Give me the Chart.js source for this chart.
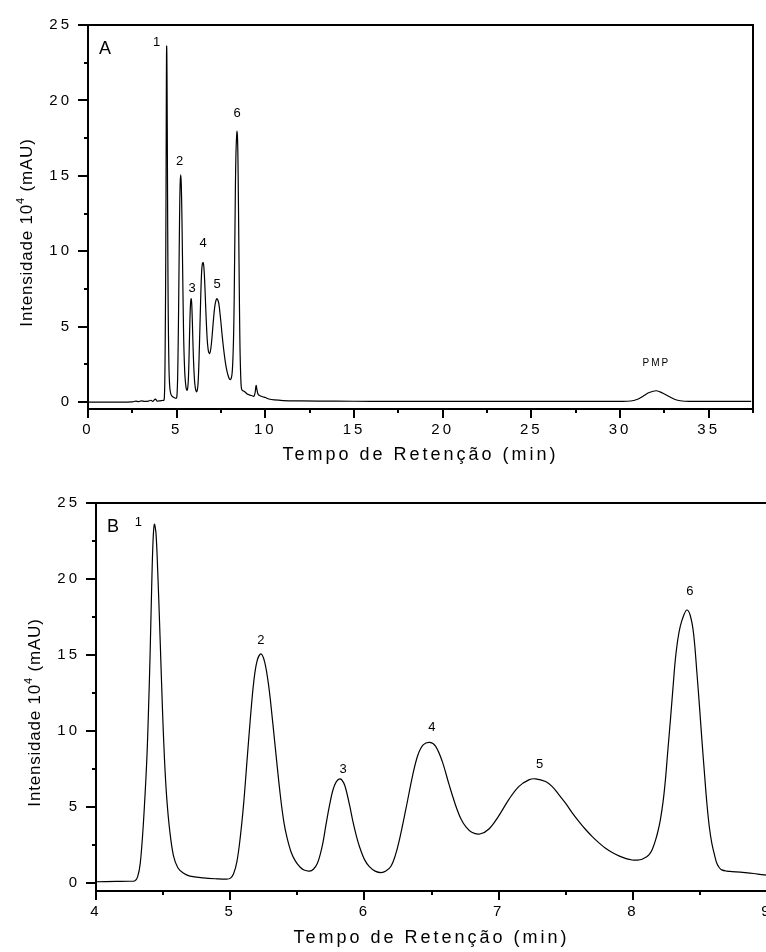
<!DOCTYPE html>
<html>
<head>
<meta charset="utf-8">
<script src="https://cdn.jsdelivr.net/npm/chart.js"></script>
<style>
  html, body { margin: 0; padding: 0; background: #fff; overflow: hidden; width: 766px; height: 952px; }
  #chart-a { position: absolute; left: 0; top: 0; }
  #chart-b { position: absolute; left: 0; top: 470px; }
</style>
</head>
<body>
<canvas id="chart-a" width="766" height="470"></canvas>
<canvas id="chart-b" width="800" height="482"></canvas>
<script>
var retentionTime = [
  0, 1, 2, 2.5, 2.7, 2.85, 3, 3.2, 3.4, 3.55, 3.65, 3.8, 3.9, 4, 4.15, 4.25, 4.29,
  4.31, 4.33, 4.353, 4.378, 4.39, 4.403, 4.415, 4.425, 4.435, 4.447, 4.46, 4.478, 4.495, 4.51, 4.527, 4.55, 4.577, 4.61, 4.65, 4.7, 4.8, 4.9, 4.97,
  5, 5.025, 5.05, 5.075, 5.1, 5.125, 5.15, 5.175, 5.2, 5.229, 5.255, 5.28, 5.3, 5.336, 5.373, 5.4, 5.423, 5.455, 5.485, 5.52, 5.55, 5.59,
  5.62, 5.65, 5.67, 5.69, 5.715, 5.74, 5.765, 5.79, 5.819, 5.845, 5.864, 5.89, 5.913, 5.94, 5.963, 6, 6.037, 6.08, 6.124,
  6.16, 6.198, 6.23, 6.26, 6.31, 6.36, 6.4, 6.44, 6.488, 6.53, 6.58, 6.63, 6.68, 6.72, 6.755, 6.8, 6.861,
  6.928, 7, 7.077, 7.15, 7.225, 7.275, 7.35, 7.4, 7.45, 7.5, 7.55, 7.599, 7.65, 7.698, 7.75, 7.797, 7.85, 7.896, 7.95, 7.995, 8.035,
  8.07, 8.1, 8.12, 8.145, 8.17, 8.19, 8.205, 8.225, 8.243, 8.26, 8.28, 8.3, 8.317, 8.335, 8.354, 8.379, 8.403, 8.428, 8.453, 8.478,
  8.497, 8.515, 8.535, 8.552, 8.57, 8.589, 8.61, 8.626, 8.645, 8.663, 8.7, 8.738, 8.8, 8.837, 8.9, 8.98,
  9.05, 9.15, 9.25, 9.35, 9.42, 9.48, 9.53, 9.6, 9.7, 9.85, 10, 10.2, 10.5, 11, 12, 14, 16, 18, 20, 22, 24, 26, 28, 30,
  30.6, 30.95, 31.3, 31.65, 32.05, 32.4, 32.8, 33.15, 33.5, 34, 35, 37.4
];

// Intensidade (10^4 mAU) no mesmo índice de retentionTime
var intensity = [
  0, 0, 0, 0.01, 0.06, 0.03, 0.08, 0.04, 0.06, 0.12, 0.05, 0.2, 0.06, 0.08, 0.1, 0.11, 0.15,
  0.4, 1.3, 3.9, 8.0, 11.0, 15.0, 19.5, 22.5, 23.6, 23.0, 20.5, 16.0, 11.5, 8.2, 5.6, 3.4, 1.8, 1.0, 0.65, 0.45, 0.33, 0.27, 0.25,
  0.3, 0.6, 1.4, 3.0, 5.2, 8.0, 10.8, 13.2, 14.6, 15.07, 14.6, 13.4, 12.0, 8.9, 5.8, 4.0, 3.0, 2.0, 1.45, 1.05, 0.85, 0.78,
  0.9, 1.3, 1.85, 2.6, 3.9, 5.1, 6.1, 6.65, 6.85, 6.6, 6.1, 5.1, 4.1, 3.1, 2.4, 1.55, 1.07, 0.78, 0.68,
  0.78, 1.1, 1.8, 2.8, 4.9, 7.1, 8.45, 9.1, 9.25, 9.0, 8.0, 6.5, 5.1, 4.2, 3.7, 3.33, 3.22,
  3.55, 4.4, 5.5, 6.34, 6.78, 6.85, 6.67, 6.34, 5.8, 5.24, 4.6, 4.04, 3.5, 3.05, 2.62, 2.28, 1.98, 1.78, 1.6, 1.51, 1.5,
  1.56, 1.7, 1.84, 2.2, 2.83, 3.5, 4.14, 5.3, 6.78, 8.6, 10.7, 12.9, 14.7, 16.0, 16.9, 17.6, 17.96, 17.6, 16.4, 13.8,
  11.6, 9.4, 7.1, 5.24, 3.7, 2.6, 1.8, 1.29, 1.0, 0.86, 0.78, 0.75, 0.71, 0.68, 0.62, 0.53,
  0.5, 0.45, 0.42, 0.38, 0.6, 1.1, 0.8, 0.5, 0.42, 0.35, 0.3, 0.2, 0.14, 0.1, 0.08, 0.06, 0.05, 0.05, 0.05, 0.04, 0.04, 0.04, 0.04, 0.05,
  0.07, 0.17, 0.39, 0.63, 0.75, 0.6, 0.35, 0.15, 0.07, 0.05, 0.04, 0.04
];

// Identificação dos picos e seus tempos de retenção (ápice)
var peakNames = ['1', '2', '3', '4', '5', '6', 'PMP'];
var peakTimes = [4.435, 5.229, 5.819, 6.488, 7.275, 8.403, 32.05];

var panelNames = ['A', 'B'];
var xTitle = 'Tempo de Retenção (min)';
var yTitleParts = ['Intensidade 10', '4', ' (mAU)'];

var FONT = '"Liberation Sans", Arial, Helvetica, sans-serif';

var points = retentionTime.map(function (t, i) { return { x: t, y: intensity[i] }; });

// Marcas dos eixos: principais nos valores das ticks, secundárias no meio
function tickSets(scale) {
  var major = scale.ticks.map(function (t) { return t.value; });
  var step = major[1] - major[0];
  var minor = [];
  for (var v = major[0] - step / 2; v <= scale.max + 1e-9; v += step) {
    if (v >= scale.min - 1e-9) minor.push(v);
  }
  return { major: major, minor: minor };
}

var chromPlugin = {
  id: 'chrom',
  beforeDraw: function (chart) {
    // espaçamento de letras usado nas ticks e no título do eixo x
    chart.ctx.letterSpacing = '3px';
  },
  afterDraw: function (chart, args, opts) {
    var ctx = chart.ctx;
    var area = chart.chartArea;
    var xs = chart.scales.x;
    var ys = chart.scales.y;
    ctx.save();
    ctx.strokeStyle = '#000';
    ctx.fillStyle = '#000';

    // moldura
    ctx.lineWidth = 2;
    ctx.strokeRect(area.left, area.top, area.right - area.left, area.bottom - area.top);

    // marcas dos eixos
    var tx = tickSets(xs), ty = tickSets(ys);
    ctx.beginPath();
    tx.major.forEach(function (v) { var p = Math.round(xs.getPixelForValue(v)); ctx.moveTo(p, area.bottom); ctx.lineTo(p, area.bottom + 9); });
    tx.minor.forEach(function (v) { var p = Math.round(xs.getPixelForValue(v)); ctx.moveTo(p, area.bottom); ctx.lineTo(p, area.bottom + 4); });
    ty.major.forEach(function (v) { var p = Math.round(ys.getPixelForValue(v)); ctx.moveTo(area.left, p); ctx.lineTo(area.left - 10, p); });
    ty.minor.forEach(function (v) { var p = Math.round(ys.getPixelForValue(v)); ctx.moveTo(area.left, p); ctx.lineTo(area.left - 4, p); });
    ctx.stroke();

    // título do eixo y com expoente
    ctx.save();
    ctx.letterSpacing = '0.8px';
    ctx.translate(area.left - 56, (area.top + area.bottom) / 2 + 15.5);
    ctx.rotate(-Math.PI / 2);
    ctx.textBaseline = 'alphabetic';
    ctx.textAlign = 'left';
    var big = '17px ' + FONT, small = '11px ' + FONT;
    ctx.font = big;
    var w1 = ctx.measureText(yTitleParts[0]).width;
    var w3 = ctx.measureText(yTitleParts[2]).width;
    ctx.font = small;
    var w2 = ctx.measureText(yTitleParts[1]).width;
    var x0 = -(w1 + w2 + w3) / 2;
    ctx.font = big;
    ctx.fillText(yTitleParts[0], x0, 0);
    ctx.font = small;
    ctx.fillText(yTitleParts[1], x0 + w1, -8);
    ctx.font = big;
    ctx.fillText(yTitleParts[2], x0 + w1 + w2, 0);
    ctx.restore();

    // letra do painel
    ctx.letterSpacing = '0px';
    ctx.textAlign = 'left';
    ctx.textBaseline = 'alphabetic';
    ctx.font = '18px ' + FONT;
    ctx.fillText(opts.panel, area.left + 11, area.top + 29);

    // identificação dos picos
    ctx.textAlign = 'center';
    peakNames.forEach(function (name, i) {
      var t = peakTimes[i];
      if (t < xs.min || t > xs.max) return;
      var h = intensity[retentionTime.indexOf(t)];
      var off = opts.offsets[i];
      var px = xs.getPixelForValue(t) + off[0];
      var py = ys.getPixelForValue(h) + off[1];
      if (name.length > 1) {
        ctx.font = '10px ' + FONT;
        ctx.letterSpacing = '2px';
      } else {
        ctx.font = '13px ' + FONT;
        ctx.letterSpacing = '0px';
      }
      ctx.fillText(name, px, py);
    });
    ctx.restore();
  }
};

function generateChart(canvasId, cfg) {
  return new Chart(document.getElementById(canvasId), {
    type: 'line',
    data: {
      datasets: [{
        data: points,
        borderColor: '#000',
        borderWidth: 1.2,
        pointRadius: 0,
        fill: false,
        tension: 0.35
      }]
    },
    plugins: [chromPlugin],
    options: {
      responsive: false,
      animation: false,
      devicePixelRatio: 1,
      events: [],
      layout: { padding: { top: cfg.top, right: cfg.right, bottom: 0, left: 0 } },
      plugins: {
        legend: { display: false },
        tooltip: { enabled: false },
        chrom: { panel: cfg.panel, offsets: cfg.offsets }
      },
      scales: {
        x: {
          type: 'linear',
          min: cfg.xMin,
          max: cfg.xMax,
          grid: { display: false, drawTicks: false },
          border: { display: false },
          ticks: {
            stepSize: cfg.xStep,
            includeBounds: false,
            autoSkip: false,
            maxRotation: 0,
            padding: 12,
            color: '#000',
            font: { family: FONT, size: 15 }
          },
          title: {
            display: true,
            text: xTitle,
            color: '#000',
            font: { family: FONT, size: 18 },
            padding: { top: 0, bottom: cfg.titlePad }
          },
          afterFit: function (scale) { scale.height = 61; }
        },
        y: {
          type: 'linear',
          min: cfg.yMin,
          max: 25,
          grid: { display: false, drawTicks: false },
          border: { display: false },
          ticks: {
            stepSize: 5,
            includeBounds: false,
            padding: 16,
            color: '#000',
            font: { family: FONT, size: 15 }
          },
          afterFit: function (scale) { scale.width = cfg.left; }
        }
      }
    }
  });
}

// Painel A: cromatograma completo
generateChart('chart-a', {
  panel: panelNames[0],
  xMin: 0, xMax: 37.5, xStep: 5, yMin: -0.46,
  top: 22, right: 13, left: 88, titlePad: 4,
  offsets: [[-10, 0], [-1, -10], [1, -7], [0, -16], [0, -11], [0, -14], [0, -25]]
});

// Painel B: ampliação entre 4 e 9 min
generateChart('chart-b', {
  panel: panelNames[1],
  xMin: 4, xMax: 9, xStep: 1, yMin: -0.53,
  top: 33, right: 33, left: 96, titlePad: 3,
  offsets: [[-16, 2], [0, -10], [3, -6], [2, -11], [4, -11], [3, -15], [0, -25]]
});
</script>
</body>
</html>
